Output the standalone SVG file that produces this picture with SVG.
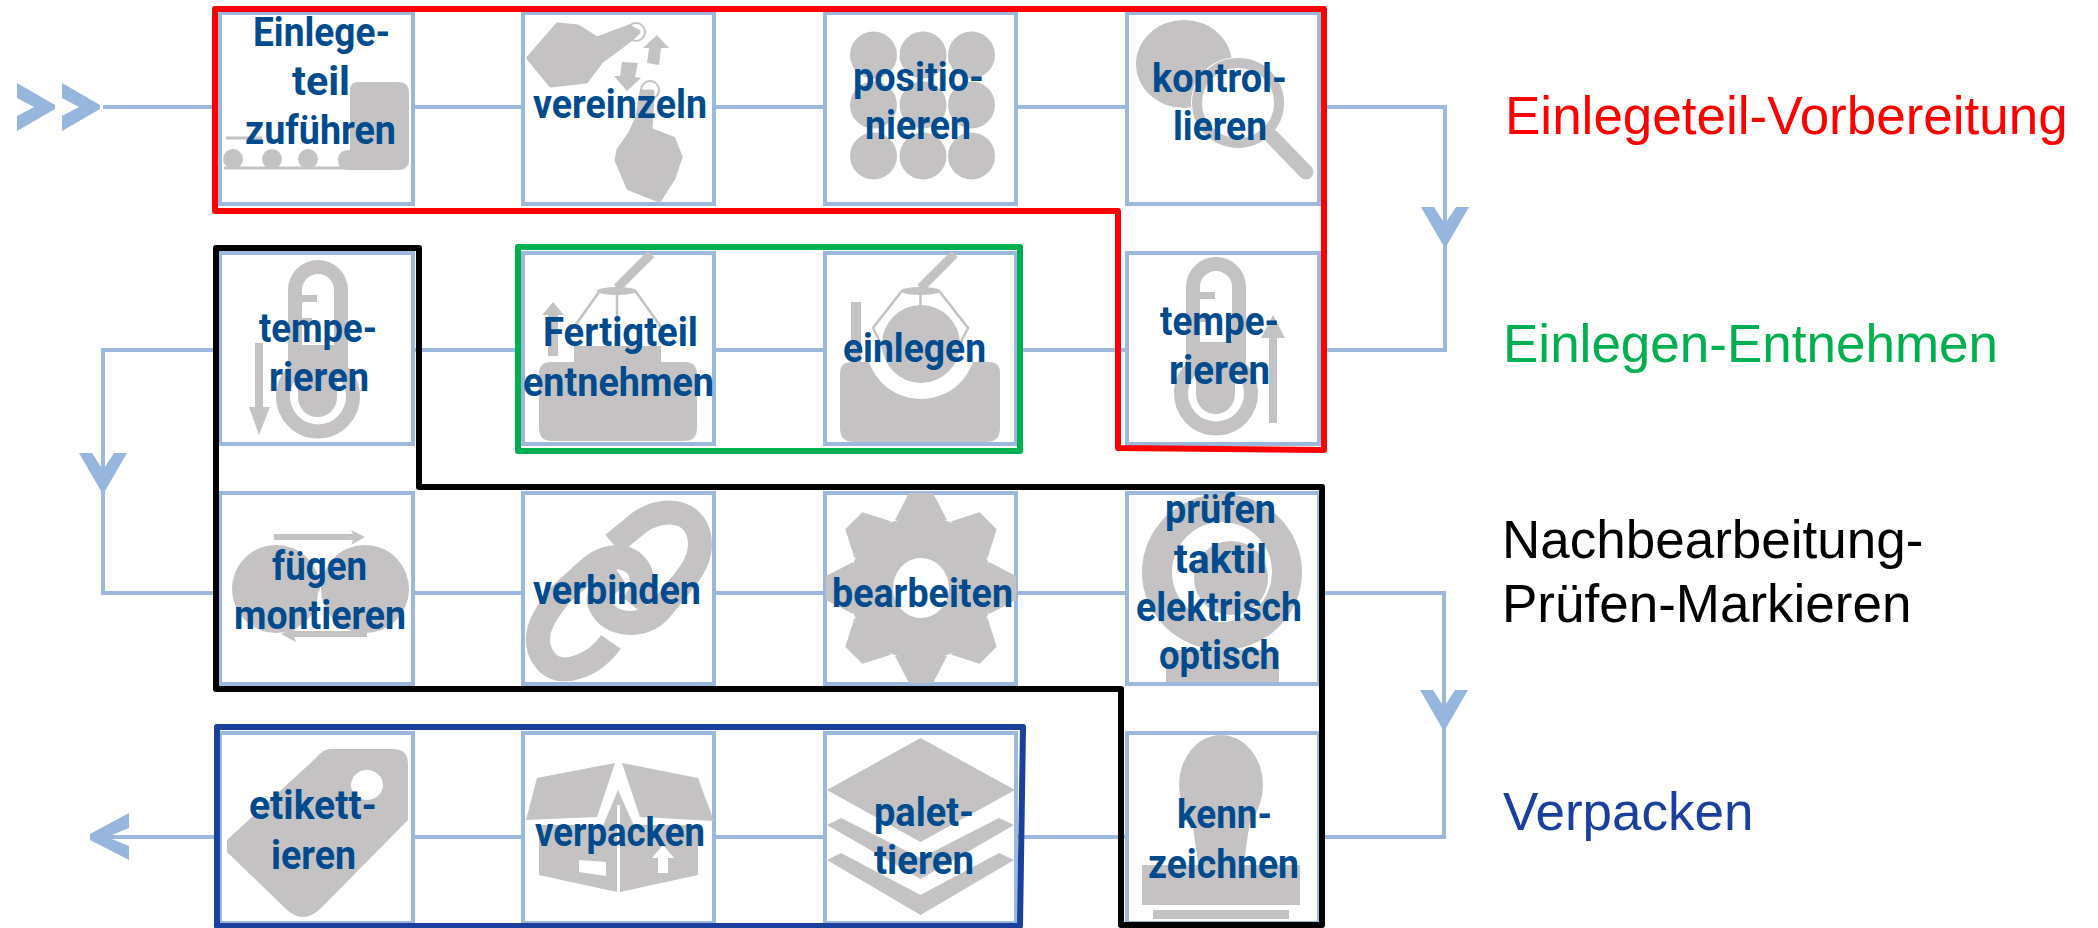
<svg xmlns="http://www.w3.org/2000/svg" xmlns:xlink="http://www.w3.org/1999/xlink" width="2098" height="928" viewBox="0 0 2098 928">
<style>
.box{fill:#fff;stroke:#9cb9dd;stroke-width:4}
.con{fill:none;stroke:#9cb9dd;stroke-width:4}
.tip{fill:#97b6de}
.ic{fill:#c4c2c3;stroke:none}
.icr{fill:#c4c2c3;stroke:#c4c2c3;stroke-width:5;stroke-linejoin:round}
.wh{fill:#fff;stroke:none}
.ln{fill:none;stroke:#c4c2c3}
.t{font-family:Roboto,"Noto Sans",sans-serif;font-weight:700;font-size:40px;fill:#004b8d}
.leg{font-family:"Liberation Sans",Arial,sans-serif;font-size:53px}
.hl{fill:none;stroke-width:6;stroke-linejoin:round}
</style>
<defs>
<g id="thermo">
<path class="ln" stroke-width="14" d="M295 370V290A23 23 0 0 1 341 290V370A35 35 0 1 1 295 370Z"/>
<path class="ic" d="M298 345H337V397A19.500 20 0 0 1 298 397Z"/>
<rect class="ic" x="298" y="295" width="19" height="7"/>
<rect class="ic" x="298" y="318" width="14" height="7"/>
</g>
<polygon id="tooth" class="ic" points="-26,-68 -12,-95 12,-95 26,-68"/>
<polygon id="vhead" class="tip" points="-24,0 -11,0 0,17 11,0 24,0 2,38 -2,38"/>
<polygon id="chev" class="tip" points="0,0 38,22 38,26 0,48 0,33 17,24 0,15"/>
<g id="grip">
<path class="ln" stroke-width="9" d="M34 -34L0 0"/>
<ellipse class="ic" cx="0" cy="3" rx="20" ry="4"/>
</g>
</defs>
<g id="connectors">
<path class="con" d="M103 107H220"/>
<path class="con" d="M413 107H523M714 107H825M1016 107H1127M1319 107H1445V350H1319"/>
<path class="con" d="M1127 350H1016M825 350H714M523 350H413M220 350H103V593H220"/>
<path class="con" d="M413 593H523M714 593H825M1016 593H1127M1319 593H1444V837H1319"/>
<path class="con" d="M1127 837H1016M825 837H714M523 837H413M220 837H100"/>
<use xlink:href="#chev" href="#chev" x="17" y="83"/>
<use xlink:href="#chev" href="#chev" x="62" y="83"/>
<use xlink:href="#vhead" href="#vhead" x="1445" y="207"/>
<use xlink:href="#vhead" href="#vhead" x="103" y="453"/>
<use xlink:href="#vhead" href="#vhead" x="1444" y="690"/>
<polygon class="tip" points="129,813 129,828 107,837 129,846 129,860 90,840 90,834"/>
</g>

<g id="node-einlegeteil-zufuehren">
<rect class="box" x="220" y="13" width="193" height="191"/>
<path class="ic" d="M358 82H398Q409 82 409 93V160Q409 170 398 170H347Q338 170 338 160Q338 150 350 150V90Q350 82 358 82Z"/>
<circle class="ic" cx="233" cy="159" r="10"/><circle class="ic" cx="272" cy="159" r="10"/><circle class="ic" cx="308" cy="159" r="10"/>
<path class="ln" stroke-width="3" d="M224 168H342M226 138H262"/>
<text class="t" x="253" y="46" textLength="137" lengthAdjust="spacingAndGlyphs">Einlege-</text>
<text class="t" x="292" y="95" textLength="58" lengthAdjust="spacingAndGlyphs">teil</text>
<text class="t" x="245" y="144" textLength="151" lengthAdjust="spacingAndGlyphs">zuführen</text>
</g>
<g id="node-vereinzeln">
<rect class="box" x="523" y="13" width="191" height="191"/>
<polygon class="icr" points="529,58 558,25 578,27 597,39 629,27 638,32 632,38 601,61 586,81 551,85"/>
<circle class="ln" stroke-width="2" cx="636" cy="32" r="9"/>
<polygon class="ic" points="657,35 669,48 661,48 659,65 647,63 649,48 643,48"/>
<polygon class="ic" points="622,62 638,63 635,77 641,78 627,91 614,76 620,76"/>
<circle class="ln" stroke-width="2" cx="650" cy="90" r="9"/>
<polygon class="icr" points="619,150 631,133 638,117 642,92 652,92 650,130 673,139 680,157 673,178 659,200 629,188 617,160"/>
<text class="t" x="533" y="118" textLength="174" lengthAdjust="spacingAndGlyphs">vereinzeln</text>
</g>
<g id="node-positionieren">
<rect class="box" x="825" y="13" width="191" height="191"/>
<g class="ic">
<circle cx="873.500" cy="55" r="23.500"/><circle cx="923" cy="55" r="23.500"/><circle cx="971.500" cy="55" r="23.500"/>
<circle cx="873.500" cy="105" r="23.500"/><circle cx="923" cy="105" r="23.500"/><circle cx="971.500" cy="105" r="23.500"/>
<circle cx="873.500" cy="156" r="23.500"/><circle cx="923" cy="156" r="23.500"/><circle cx="971.500" cy="156" r="23.500"/>
</g>
<text class="t" x="853" y="91" textLength="131" lengthAdjust="spacingAndGlyphs">positio-</text>
<text class="t" x="865" y="139" textLength="106" lengthAdjust="spacingAndGlyphs">nieren</text>
</g>
<g id="node-kontrollieren">
<rect class="box" x="1127" y="13" width="192" height="191"/>
<ellipse class="ic" cx="1184" cy="64" rx="48" ry="44"/>
<ellipse cx="1238" cy="103" rx="47" ry="46" fill="#fff"/>
<ellipse class="ln" stroke-width="10" cx="1238" cy="103" rx="41" ry="40"/>
<path class="ln" stroke-width="15" stroke-linecap="round" d="M1272 137L1306 172"/>
<text class="t" x="1152" y="92" textLength="135" lengthAdjust="spacingAndGlyphs">kontrol-</text>
<text class="t" x="1173" y="140" textLength="94" lengthAdjust="spacingAndGlyphs">lieren</text>
</g>

<g id="node-temperieren-2">
<rect class="box" x="1127" y="253" width="192" height="191"/>
<use xlink:href="#thermo" href="#thermo" x="898" y="-3"/>
<polygon class="ic" points="1273,315 1285,338 1277,338 1277,423 1269,423 1269,338 1261,338"/>
<text class="t" x="1160" y="335" textLength="119" lengthAdjust="spacingAndGlyphs">tempe-</text>
<text class="t" x="1169" y="384" textLength="101" lengthAdjust="spacingAndGlyphs">rieren</text>
</g>
<g id="node-einlegen">
<rect class="box" x="825" y="253" width="191" height="191"/>
<path class="ic" d="M852 362H989Q1000 362 1000 373V428Q1000 442 986 442H854Q840 442 840 428V373Q840 362 852 362Z"/>
<circle cx="921" cy="344" r="55" fill="#fff"/>
<circle class="ic" cx="921" cy="344" r="39"/>
<rect class="ic" x="851" y="302" width="10" height="61"/>
<use xlink:href="#grip" href="#grip" x="920.500" y="288"/>
<path class="ln" stroke-width="2.500" d="M901 292L873 328L889 360M940 292L968 328L952 360M920.500 292V306"/>
<text class="t" x="843" y="362" textLength="143" lengthAdjust="spacingAndGlyphs">einlegen</text>
</g>
<g id="node-fertigteil-entnehmen">
<rect class="box" x="523" y="253" width="191" height="191"/>
<path class="ic" d="M551 362H574V346H661V362H685Q697 362 697 374V428Q697 441 684 441H552Q539 441 539 428V374Q539 362 551 362Z"/>
<use xlink:href="#grip" href="#grip" x="617" y="288"/>
<path class="ln" stroke-width="2.500" d="M599 292L574 327M636 292L661 327M617 292V346"/>
<polygon class="ic" points="553,302 564,315 558,315 558,356 548,356 548,315 542,315"/>
<text class="t" x="543" y="346" textLength="155" lengthAdjust="spacingAndGlyphs">Fertigteil</text>
<text class="t" x="523" y="396" textLength="191" lengthAdjust="spacingAndGlyphs">entnehmen</text>
</g>
<g id="node-temperieren-1">
<rect class="box" x="220" y="253" width="193" height="191"/>
<use xlink:href="#thermo" href="#thermo"/>
<polygon class="ic" points="259,435 249,407 255,407 255,343 263,343 263,407 270,407"/>
<text class="t" x="259" y="342" textLength="118" lengthAdjust="spacingAndGlyphs">tempe-</text>
<text class="t" x="269" y="391" textLength="100" lengthAdjust="spacingAndGlyphs">rieren</text>
</g>

<g id="node-fuegen-montieren">
<rect class="box" x="220" y="493" width="193" height="191"/>
<ellipse class="ic" cx="276" cy="589" rx="44" ry="44"/>
<ellipse class="ic" cx="365" cy="589" rx="44" ry="44"/>
<polygon class="wh" points="319,588 312,630 326,630"/>
<polygon class="ic" points="274,534 353,534 351,530 365,537 351,545 353,540 274,540"/>
<polygon class="ic" points="367,631 294,631 296,627 281,634 296,642 294,637 367,637"/>
<text class="t" x="272" y="580" textLength="95" lengthAdjust="spacingAndGlyphs">fügen</text>
<text class="t" x="234" y="629" textLength="172" lengthAdjust="spacingAndGlyphs">montieren</text>
</g>
<g id="node-verbinden">
<rect class="box" x="523" y="493" width="191" height="191"/>
<path class="ln" stroke-width="24" d="M611 642C595 665 560 680 545 660C530 640 540 620 560 595L590 568C610 550 640 555 642 580C643 590 640 595 632 605"/>
<path class="ln" stroke-width="24" d="M613 544L640 522C665 505 700 510 700 545C700 565 685 580 660 610C645 628 610 628 600 605C595 595 605 585 620 575"/>
<text class="t" x="533" y="604" textLength="168" lengthAdjust="spacingAndGlyphs">verbinden</text>
</g>
<g id="node-bearbeiten">
<rect class="box" x="825" y="493" width="191" height="191"/>
<g transform="translate(921 588)">
<circle class="ic" r="72"/>
<use xlink:href="#tooth" href="#tooth"/>
<use xlink:href="#tooth" href="#tooth" transform="rotate(45)"/>
<use xlink:href="#tooth" href="#tooth" transform="rotate(90)"/>
<use xlink:href="#tooth" href="#tooth" transform="rotate(135)"/>
<use xlink:href="#tooth" href="#tooth" transform="rotate(180)"/>
<use xlink:href="#tooth" href="#tooth" transform="rotate(225)"/>
<use xlink:href="#tooth" href="#tooth" transform="rotate(270)"/>
<use xlink:href="#tooth" href="#tooth" transform="rotate(315)"/>
<ellipse class="wh" rx="28" ry="30"/>
</g>
<text class="t" x="832" y="607" textLength="181" lengthAdjust="spacingAndGlyphs">bearbeiten</text>
</g>
<g id="node-pruefen">
<rect class="box" x="1127" y="493" width="192" height="191"/>
<rect class="ic" x="1166" y="650" width="113" height="32"/>
<ellipse class="ic" cx="1222" cy="572" rx="80" ry="78"/>
<circle class="wh" cx="1222" cy="572" r="50"/>
<circle class="ic" cx="1231" cy="578" r="37"/>
<text class="t" x="1165" y="523" textLength="111" lengthAdjust="spacingAndGlyphs">prüfen</text>
<text class="t" x="1174" y="573" textLength="93" lengthAdjust="spacingAndGlyphs">taktil</text>
<text class="t" x="1136" y="621" textLength="166" lengthAdjust="spacingAndGlyphs">elektrisch</text>
<text class="t" x="1159" y="669" textLength="121" lengthAdjust="spacingAndGlyphs">optisch</text>
</g>

<g id="node-kennzeichnen">
<rect class="box" x="1127" y="733" width="192" height="190"/>
<ellipse class="ic" cx="1221" cy="785" rx="42" ry="50"/>
<path class="ic" d="M1192 820H1250L1243 870H1199Z"/>
<rect class="ic" x="1142" y="865" width="158" height="40"/>
<rect class="ic" x="1153" y="910" width="136" height="9"/>
<text class="t" x="1177" y="828" textLength="95" lengthAdjust="spacingAndGlyphs">kenn-</text>
<text class="t" x="1148" y="878" textLength="151" lengthAdjust="spacingAndGlyphs">zeichnen</text>
</g>
<g id="node-palettieren">
<rect class="box" x="825" y="733" width="191" height="190"/>
<polygon class="ic" points="920.500,738 1015,790 920.500,842 827,790"/>
<polygon class="ic" points="827,825 841,818 920.500,858 999,818 1014,825 920.500,879"/>
<polygon class="ic" points="827,860 841,853 920.500,895 999,853 1014,860 920.500,915"/>
<text class="t" x="874" y="826" textLength="100" lengthAdjust="spacingAndGlyphs">palet-</text>
<text class="t" x="874" y="874" textLength="100" lengthAdjust="spacingAndGlyphs">tieren</text>
</g>
<g id="node-verpacken">
<rect class="box" x="523" y="733" width="191" height="190"/>
<polygon class="ic" points="526,820 537,778 615,763 597,817"/>
<polygon class="ic" points="622,763 698,778 714,821 640,817"/>
<polygon class="ic" points="539,825 617,825 617,892 539,875"/>
<polygon class="ic" points="620,892 698,875 698,825 620,825"/>
<polygon class="ic" points="618,790 603,826 634,826"/>
<path stroke="#fff" stroke-width="3" fill="none" d="M618.500 805V892"/>
<polygon class="wh" points="579,860 606,862 606,876 579,872"/>
<polygon class="wh" points="663,845 674,858 668,858 668,873 658,873 658,858 652,858"/>
<text class="t" x="535" y="846" textLength="170" lengthAdjust="spacingAndGlyphs">verpacken</text>
</g>
<g id="node-etikettieren">
<rect class="box" x="220" y="733" width="193" height="190"/>
<path class="ic" d="M331 749H393Q408 749 408 764V820L321 908Q303 926 285 908L227 852V840L317 757Q323 749 331 749Z"/>
<ellipse class="wh" cx="367" cy="785" rx="16" ry="15"/>
<text class="t" x="249" y="819" textLength="128" lengthAdjust="spacingAndGlyphs">etikett-</text>
<text class="t" x="271" y="869" textLength="85" lengthAdjust="spacingAndGlyphs">ieren</text>
</g>

<g id="groups">
<path class="hl" stroke="#ff0000" d="M215 9H1324V450L1118 448V211H215Z"/>
<path class="hl" stroke="#000000" d="M216 248H419V487H1322V925H1121V689L216 689Z"/>
<rect class="hl" stroke="#00b050" x="518" y="247" width="502" height="204"/>
<path class="hl" stroke="#1b3f9c" d="M217 727H1023L1020 926H217Z"/>
</g>
<g id="legend">
<text class="leg" x="1505" y="134" fill="#ff0000">Einlegeteil-Vorbereitung</text>
<text class="leg" x="1503" y="362" fill="#00b050">Einlegen-Entnehmen</text>
<text class="leg" x="1502" y="558" fill="#000000">Nachbearbeitung-</text>
<text class="leg" x="1502" y="622" fill="#000000">Prüfen-Markieren</text>
<text class="leg" x="1503" y="830" fill="#1b3f9c">Verpacken</text>
</g>
</svg>
